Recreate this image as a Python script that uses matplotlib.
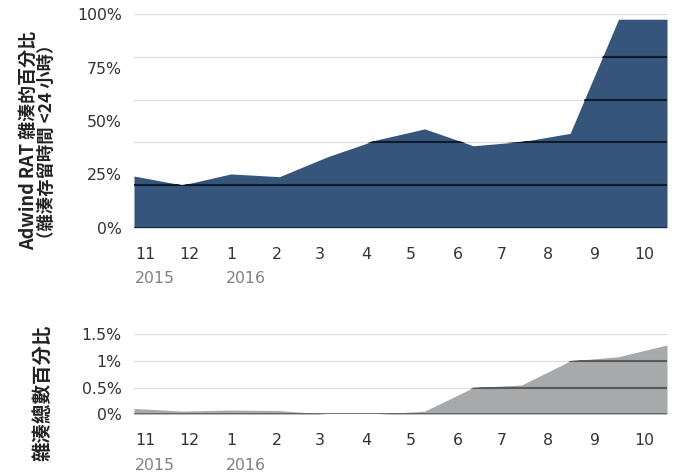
import numpy as np
import pandas as pd
import matplotlib
matplotlib.use('Agg')
from matplotlib import pyplot as plt

plt.rcParams['font.family'] = ['DejaVu Sans', 'Noto Sans CJK TC']
CJK = ['Noto Sans CJK TC', 'DejaVu Sans']

months = ['11', '12', '1', '2', '3', '4', '5', '6', '7', '8', '9', '10']
years = {'11': '2015', '1': '2016'}
month_starts = pd.date_range('2015-11-01', '2016-10-01', freq='MS')

# share of Adwind RAT hashes (lifetime < 24h), in %
rat_share = [24.2, 20.0, 25.2, 23.9, 33.3, 41.1, 46.3, 38.4, 40.3, 44.2, 97.7, 97.7]
# share of all hashes, in %
total_share = [0.11, 0.06, 0.08, 0.07, 0.0, 0.0, 0.06, 0.5, 0.55, 1.0, 1.08, 1.3]

top_ticks = [0, 25, 50, 75, 100]
top_grid = [20, 40, 60, 80, 100]
bottom_ticks = [0, 0.5, 1, 1.5]
bottom_grid = [0.5, 1, 1.5]

DAYS_PER_POINT = 32.5


def fmt_pct(v):
    return f'{v:g}%'


def draw_panel(ax, values, color, dark, grid, ticks, ymax):
    x = np.arange(len(values))
    for g in grid:
        ax.axhline(g, color='#dddddd', lw=0.9, zorder=1)
    area = ax.fill_between(x, 0, values, color=color, lw=0, zorder=2)
    clip = area.get_paths()[0]
    for g in grid:
        line = ax.axhline(g, color=dark, lw=1.5, zorder=3)
        line.set_clip_path(clip, ax.transData)
    ax.axhline(0, color=dark, lw=1.2, zorder=3)

    ax.set_xlim(0, len(values) - 1)
    ax.set_ylim(0, ymax)
    ax.set_yticks(ticks)
    ax.set_yticklabels([fmt_pct(t) for t in ticks])
    ax.tick_params(axis='y', length=0, pad=8.8, labelsize=11.3, labelcolor='#333333')
    ax.set_xticks([])
    for s in ax.spines.values():
        s.set_visible(False)

    # month labels at month starts, years below
    for m, d in zip(months, month_starts):
        pos = (d - month_starts[0]).days / DAYS_PER_POINT
        ax.annotate(m, xy=(pos, 0), xycoords=('data', 'axes fraction'),
                    xytext=(0.6, -22.3), textcoords='offset points',
                    ha='left', va='baseline', fontsize=11.3, color='#333333')
        if m in years:
            ax.annotate(years[m], xy=(pos, 0), xycoords=('data', 'axes fraction'),
                        xytext=(0.6, -40), textcoords='offset points',
                        ha='left', va='baseline', fontsize=11.3, color='#808080')


fig = plt.figure(figsize=(6.73, 4.74), dpi=100)
ax_top = fig.add_axes([134 / 673, 1 - 227.7 / 474, 533 / 673, 213.4 / 474])
ax_bot = fig.add_axes([134 / 673, 1 - 414.3 / 474, 533 / 673, 80 / 474])

draw_panel(ax_top, rat_share, '#35557a', '#0c1a2e', top_grid, top_ticks, 100)
draw_panel(ax_bot, total_share, '#a8a9ab', '#5a5a5a', bottom_grid, bottom_ticks, 1.5)

fig.text(28 / 673, 1 - 140 / 474, 'Adwind RAT 雜湊的百分比', rotation=90, family=CJK,
         ha='center', va='center', fontsize=13, fontweight='bold', color='#222222')
fig.text(47 / 673, 1 - 141.5 / 474, '（雜湊存留時間 <24 小時）', rotation=90, family=CJK,
         ha='center', va='center', fontsize=12.5, fontweight='bold', color='#222222')
fig.text(43 / 673, 1 - 393 / 474, '雜湊總數百分比', rotation=90, family=CJK,
         ha='center', va='center', fontsize=14, fontweight='bold', color='#222222')

fig.savefig('out.png', dpi=100)
